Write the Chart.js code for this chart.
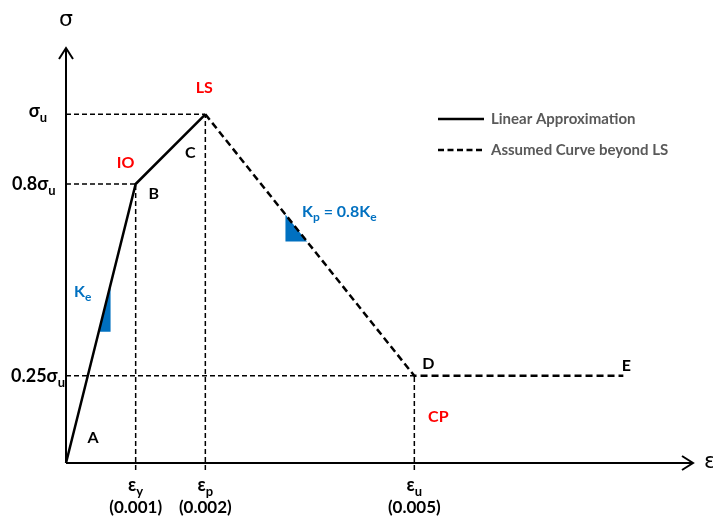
<!DOCTYPE html>
<html><head><meta charset="utf-8">
<script src="https://cdn.jsdelivr.net/npm/chart.js@4.4.1/dist/chart.umd.min.js"></script>
<style>html,body{margin:0;padding:0;background:#fff}#wrap{width:713px;height:517px}</style>
</head><body><div id="wrap"><canvas id="c" width="713" height="517"></canvas></div>
<script>
// Idealised stress-strain backbone with performance levels
const pointNames  = ['A', 'B', 'C', 'D', 'E'];
const pointStrain = [0, 0.001, 0.002, 0.005, 0.008];
const pointStress = [0, 0.8, 1.0, 0.25, 0.25];   // as a fraction of σu

const levelNames = ['IO', 'LS', 'CP'];
const levelPoint = [1, 2, 3];                      // index into the points above

const stressTickValues = [1.0, 0.8, 0.25];
const stressTickPrefix = ['', '0.8', '0.25'];

const strainTickValues = [0.001, 0.002, 0.005];
const strainTickSub    = ['y', 'p', 'u'];
const strainTickLabels = ['(0.001)', '(0.002)', '(0.005)'];

// slope markers on the elastic and post-peak branches
const keMarkStrain = [0.00047, 0.00064, 0.00064, 0.00047];
const keMarkStress = [0.376, 0.376, 0.512, 0.376];
const kpMarkStrain = [0.00315, 0.00315, 0.00346, 0.00315];
const kpMarkStress = [0.7125, 0.635, 0.635, 0.7125];

const seriesNames = ['Linear Approximation', 'Assumed Curve beyond LS'];

const BLACK = '#000000', RED = '#FF0000', BLUE = '#0070C0', GREY = '#595959';
const FONT = 'Lato, "Open Sans", "DejaVu Sans", sans-serif';

const xy = (xs, ys) => xs.map((x, i) => ({ x, y: ys[i] }));

const linearPart  = xy(pointStrain.slice(0, 3), pointStress.slice(0, 3));
const assumedPart = xy(pointStrain.slice(2), pointStress.slice(2));

const guideSets = [];
[1, 2, 3].forEach(i => {
  guideSets.push({
    data: [{ x: 0, y: pointStress[i] }, { x: pointStrain[i], y: pointStress[i] }],
    borderColor: BLACK, borderWidth: 1.5, borderDash: [5, 3], pointRadius: 0, order: 5, clip: false
  });
  guideSets.push({
    data: [{ x: pointStrain[i], y: -0.02 }, { x: pointStrain[i], y: pointStress[i] }],
    borderColor: BLACK, borderWidth: 1.5, borderDash: [5, 3], pointRadius: 0, order: 5, clip: false
  });
});

function drawRich(ctx, x, y, parts, size, color, align, weight) {
  const subSize = Math.round(size * 0.74);
  const w = parts.map(p => {
    ctx.font = `${weight} ${p.sub ? subSize : size}px ${FONT}`;
    return ctx.measureText(p.t).width;
  });
  const total = w.reduce((a, b) => a + b, 0);
  let cx = align === 'center' ? x - total / 2 : align === 'right' ? x - total : x;
  ctx.fillStyle = color;
  ctx.textAlign = 'left';
  ctx.textBaseline = 'alphabetic';
  parts.forEach((p, i) => {
    ctx.font = `${weight} ${p.sub ? subSize : size}px ${FONT}`;
    ctx.fillText(p.t, cx, p.sub ? y + size * 0.28 : y);
    cx += w[i];
  });
}

const annotate = {
  id: 'annotate',
  afterDatasetsDraw(chart) {
    const { ctx, scales: { x: sx, y: sy } } = chart;
    const px = v => sx.getPixelForValue(v), py = v => sy.getPixelForValue(v);
    const x0 = px(0), y0 = py(0), xEnd = px(sx.max), yTop = py(sy.max);
    ctx.save();

    // axes with open arrow heads
    ctx.strokeStyle = BLACK; ctx.lineWidth = 2; ctx.setLineDash([]);
    ctx.beginPath();
    ctx.moveTo(x0, y0); ctx.lineTo(xEnd, y0);
    ctx.moveTo(x0, y0); ctx.lineTo(x0, yTop);
    ctx.moveTo(xEnd - 11, y0 - 7); ctx.lineTo(xEnd, y0); ctx.lineTo(xEnd - 11, y0 + 7);
    ctx.moveTo(x0 - 7, yTop + 11); ctx.lineTo(x0, yTop); ctx.lineTo(x0 + 7, yTop + 11);
    ctx.stroke();

    // axis symbols
    ctx.fillStyle = BLACK; ctx.textBaseline = 'middle'; ctx.textAlign = 'center';
    ctx.font = `22px "DejaVu Sans", sans-serif`;
    ctx.fillText('σ', x0, 20);
    ctx.textAlign = 'left';
    ctx.fillText('ε', xEnd + 11, y0 - 1);

    // stress levels on the vertical axis
    const stressLeft = [null, 12, 11];
    stressTickValues.forEach((v, i) => {
      const parts = [{ t: stressTickPrefix[i] + 'σ' }, { t: 'u', sub: true }];
      if (stressLeft[i] === null) drawRich(ctx, 38, py(v) + 3, parts, 18, BLACK, 'center', 'bold');
      else drawRich(ctx, stressLeft[i], py(v) + 6, parts, 18, BLACK, 'left', 'bold');
    });

    // strain levels under the horizontal axis
    strainTickValues.forEach((v, i) => {
      drawRich(ctx, px(v), 491, [{ t: 'ε' }, { t: strainTickSub[i], sub: true }], 18, BLACK, 'center', 'bold');
      ctx.font = `bold 17px ${FONT}`; ctx.fillStyle = BLACK;
      ctx.textAlign = 'center'; ctx.textBaseline = 'middle';
      ctx.fillText(strainTickLabels[i], px(v), 508);
    });

    // point names
    const nameOffset = [[27, -25], [18, 10], [-15, 39], [14, -12], [3, -10]];
    ctx.font = `bold 16px ${FONT}`; ctx.fillStyle = BLACK;
    ctx.textAlign = 'center'; ctx.textBaseline = 'middle';
    pointNames.forEach((n, i) => {
      ctx.fillText(n, px(pointStrain[i]) + nameOffset[i][0], py(pointStress[i]) + nameOffset[i][1]);
    });

    // performance levels
    const levelOffset = [[-10, -21], [-1, -26], [24, 41]];
    ctx.fillStyle = RED;
    levelNames.forEach((n, i) => {
      const k = levelPoint[i];
      ctx.fillText(n, px(pointStrain[k]) + levelOffset[i][0], py(pointStress[k]) + levelOffset[i][1]);
    });

    // stiffness labels
    drawRich(ctx, 74, 297, [{ t: 'K' }, { t: 'e', sub: true }], 16, BLUE, 'left', 'bold');
    drawRich(ctx, 302, 217, [{ t: 'K' }, { t: 'p', sub: true }, { t: ' = 0.8K' }, { t: 'e', sub: true }], 16, BLUE, 'left', 'bold');

    // key
    ctx.strokeStyle = BLACK; ctx.lineWidth = 2.5;
    ctx.beginPath(); ctx.moveTo(438, 119); ctx.lineTo(484, 119); ctx.stroke();
    ctx.setLineDash([6, 3.5]);
    ctx.beginPath(); ctx.moveTo(438, 150); ctx.lineTo(484, 150); ctx.stroke();
    ctx.setLineDash([]);
    ctx.font = `bold 15px ${FONT}`; ctx.fillStyle = GREY;
    ctx.textAlign = 'left'; ctx.textBaseline = 'middle';
    ctx.fillText(seriesNames[0], 491, 119);
    ctx.fillText(seriesNames[1], 491, 150);

    ctx.restore();
  }
};

new Chart(document.getElementById('c'), {
  type: 'line',
  data: {
    datasets: [
      { label: seriesNames[0], data: linearPart, borderColor: BLACK, borderWidth: 2.5, pointRadius: 0, order: 1, clip: false },
      { label: seriesNames[1], data: assumedPart, borderColor: BLACK, borderWidth: 2.5, borderDash: [7, 4], pointRadius: 0, order: 1, clip: false },
      { data: xy(keMarkStrain, keMarkStress), borderWidth: 0, backgroundColor: BLUE, fill: 'shape', pointRadius: 0, order: 6, clip: false },
      { data: xy(kpMarkStrain, kpMarkStress), borderWidth: 0, backgroundColor: BLUE, fill: 'shape', pointRadius: 0, order: 6, clip: false },
      ...guideSets
    ]
  },
  options: {
    responsive: false,
    animation: false,
    parsing: false,
    layout: { padding: { left: 66, right: 20, top: 48, bottom: 54 } },
    plugins: { legend: { display: false }, tooltip: { enabled: false } },
    scales: {
      x: { type: 'linear', min: 0, max: 0.009, display: false },
      y: { type: 'linear', min: 0, max: 1.19, display: false }
    }
  },
  plugins: [annotate]
});
</script>
</body></html>
